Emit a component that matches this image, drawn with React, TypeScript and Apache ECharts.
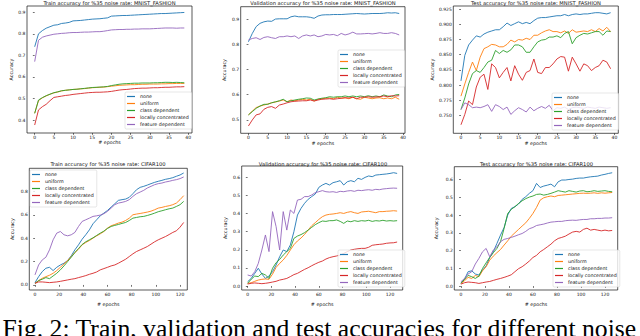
import React, { useEffect, useRef } from "react";
import * as echarts from "echarts";

const SERIES_NAMES = ["none", "uniform", "class dependent", "locally concentrated", "feature dependent"];
const SERIES_COLORS = ["#1f77b4", "#ff7f0e", "#2ca02c", "#d62728", "#9467bd"];
const FONT = "DejaVu Sans";

const epochsFashion = [0, 1, 2, 3, 4, 5, 6, 7, 8, 9, 10, 11, 12, 13, 14, 15, 16, 17, 18, 19, 20, 21, 22, 23, 24, 25, 26, 27, 28, 29, 30, 31, 32, 33, 34, 35, 36, 37, 38, 39];
const epochsCifar = [0, 3, 6, 9, 12, 15, 18, 21, 24, 27, 30, 33, 36, 39, 42, 45, 48, 51, 54, 57, 60, 63, 66, 69, 72, 75, 78, 81, 84, 87, 90, 93, 96, 99, 102, 105, 108, 111, 114, 117, 120, 123, 126];

const xTicksFashion = [0, 5, 10, 15, 20, 25, 30, 35, 40];
const xTicksCifar = [0, 20, 40, 60, 80, 100, 120];
const yTicksFashionTrain = [0.4, 0.5, 0.6, 0.7, 0.8, 0.9];
const yTicksFashionVal = [0.5, 0.6, 0.7, 0.8, 0.9];
const yTicksFashionTest = [0.75, 0.775, 0.8, 0.825, 0.85, 0.875, 0.9, 0.925];
const yTicksCifarTrain = [0, 0.2, 0.4, 0.6, 0.8];
const yTicksCifarVal = [0, 0.1, 0.2, 0.3, 0.4, 0.5, 0.6];
const yTicksCifarTest = [0, 0.1, 0.2, 0.3, 0.4, 0.5, 0.6];

// MNIST_FASHION train
const fashionTrainNone = [0.74, 0.8, 0.815, 0.826, 0.833, 0.84, 0.842, 0.848, 0.85, 0.853, 0.86, 0.861, 0.862, 0.864, 0.866, 0.868, 0.869, 0.87, 0.872, 0.874, 0.882, 0.883, 0.884, 0.885, 0.885, 0.886, 0.887, 0.888, 0.889, 0.89, 0.891, 0.892, 0.893, 0.894, 0.894, 0.895, 0.896, 0.897, 0.898, 0.899];
const fashionTrainUniform = [0.432, 0.49, 0.503, 0.512, 0.52, 0.526, 0.53, 0.535, 0.538, 0.54, 0.542, 0.543, 0.545, 0.546, 0.548, 0.55, 0.551, 0.552, 0.553, 0.555, 0.557, 0.559, 0.561, 0.562, 0.563, 0.564, 0.564, 0.565, 0.566, 0.566, 0.567, 0.567, 0.567, 0.568, 0.568, 0.569, 0.569, 0.57, 0.57, 0.57];
const fashionTrainClass = [0.431, 0.493, 0.504, 0.513, 0.52, 0.527, 0.531, 0.536, 0.538, 0.54, 0.542, 0.543, 0.545, 0.547, 0.549, 0.551, 0.552, 0.553, 0.554, 0.556, 0.56, 0.563, 0.566, 0.568, 0.569, 0.57, 0.571, 0.571, 0.572, 0.572, 0.572, 0.573, 0.573, 0.574, 0.575, 0.575, 0.574, 0.575, 0.574, 0.573];
const fashionTrainLocal = [0.377, 0.447, 0.462, 0.473, 0.49, 0.505, 0.508, 0.511, 0.514, 0.516, 0.519, 0.521, 0.523, 0.525, 0.527, 0.528, 0.529, 0.529, 0.53, 0.531, 0.533, 0.536, 0.539, 0.541, 0.542, 0.544, 0.546, 0.547, 0.548, 0.548, 0.549, 0.55, 0.55, 0.551, 0.552, 0.552, 0.553, 0.554, 0.554, 0.555];
const fashionTrainFeature = [0.671, 0.77, 0.784, 0.79, 0.794, 0.798, 0.8, 0.802, 0.803, 0.805, 0.806, 0.806, 0.807, 0.808, 0.808, 0.809, 0.81, 0.81, 0.812, 0.815, 0.818, 0.819, 0.82, 0.82, 0.821, 0.821, 0.822, 0.822, 0.823, 0.823, 0.823, 0.824, 0.825, 0.826, 0.827, 0.827, 0.827, 0.826, 0.827, 0.827];

// MNIST_FASHION validation
const fashionValNone = [0.81, 0.843, 0.87, 0.883, 0.889, 0.892, 0.891, 0.9, 0.901, 0.901, 0.901, 0.909, 0.912, 0.909, 0.909, 0.909, 0.907, 0.903, 0.912, 0.916, 0.917, 0.917, 0.918, 0.918, 0.918, 0.919, 0.92, 0.921, 0.922, 0.921, 0.92, 0.921, 0.922, 0.922, 0.922, 0.923, 0.925, 0.924, 0.925, 0.922];
const fashionValUniform = [0.52, 0.535, 0.549, 0.555, 0.559, 0.563, 0.568, 0.571, 0.575, 0.579, 0.572, 0.579, 0.576, 0.579, 0.582, 0.579, 0.582, 0.575, 0.582, 0.584, 0.586, 0.587, 0.584, 0.59, 0.586, 0.588, 0.584, 0.59, 0.584, 0.582, 0.59, 0.587, 0.584, 0.587, 0.588, 0.584, 0.587, 0.584, 0.59, 0.582];
const fashionValClass = [0.52, 0.533, 0.546, 0.555, 0.562, 0.562, 0.568, 0.572, 0.576, 0.582, 0.572, 0.576, 0.579, 0.582, 0.584, 0.587, 0.586, 0.579, 0.583, 0.586, 0.588, 0.592, 0.59, 0.592, 0.592, 0.595, 0.592, 0.595, 0.592, 0.595, 0.592, 0.596, 0.592, 0.595, 0.592, 0.599, 0.595, 0.592, 0.599, 0.601];
const fashionValLocal = [0.476, 0.5, 0.52, 0.524, 0.542, 0.55, 0.553, 0.546, 0.559, 0.563, 0.568, 0.572, 0.574, 0.575, 0.576, 0.576, 0.579, 0.575, 0.579, 0.582, 0.583, 0.584, 0.582, 0.584, 0.586, 0.588, 0.587, 0.59, 0.584, 0.59, 0.59, 0.592, 0.59, 0.591, 0.592, 0.595, 0.592, 0.596, 0.595, 0.596];
const fashionValFeature = [0.817, 0.823, 0.826, 0.819, 0.827, 0.83, 0.826, 0.823, 0.83, 0.83, 0.833, 0.83, 0.833, 0.823, 0.833, 0.837, 0.833, 0.837, 0.83, 0.833, 0.839, 0.837, 0.839, 0.834, 0.843, 0.837, 0.841, 0.848, 0.841, 0.841, 0.842, 0.843, 0.841, 0.843, 0.846, 0.843, 0.843, 0.846, 0.843, 0.837];

// MNIST_FASHION test
const fashionTestNone = [0.807, 0.849, 0.866, 0.874, 0.881, 0.879, 0.884, 0.887, 0.889, 0.891, 0.891, 0.896, 0.902, 0.898, 0.901, 0.904, 0.901, 0.903, 0.901, 0.906, 0.91, 0.911, 0.911, 0.912, 0.913, 0.914, 0.914, 0.916, 0.914, 0.916, 0.917, 0.916, 0.917, 0.917, 0.918, 0.919, 0.919, 0.918, 0.917, 0.919];
const fashionTestUniform = [0.782, 0.802, 0.821, 0.838, 0.824, 0.846, 0.86, 0.863, 0.867, 0.866, 0.863, 0.863, 0.867, 0.874, 0.871, 0.875, 0.874, 0.877, 0.875, 0.882, 0.882, 0.886, 0.889, 0.891, 0.888, 0.888, 0.886, 0.889, 0.885, 0.891, 0.887, 0.888, 0.889, 0.888, 0.891, 0.888, 0.893, 0.889, 0.895, 0.888];
const fashionTestClass = [0.76, 0.779, 0.802, 0.819, 0.824, 0.821, 0.829, 0.838, 0.841, 0.857, 0.852, 0.857, 0.854, 0.858, 0.866, 0.866, 0.863, 0.854, 0.854, 0.863, 0.871, 0.874, 0.875, 0.879, 0.879, 0.881, 0.878, 0.885, 0.888, 0.868, 0.878, 0.882, 0.885, 0.884, 0.886, 0.888, 0.888, 0.882, 0.889, 0.888];
const fashionTestLocal = [0.735, 0.752, 0.774, 0.768, 0.797, 0.813, 0.818, 0.793, 0.835, 0.829, 0.812, 0.821, 0.829, 0.807, 0.832, 0.818, 0.808, 0.821, 0.824, 0.843, 0.821, 0.819, 0.829, 0.829, 0.835, 0.843, 0.847, 0.846, 0.823, 0.846, 0.835, 0.823, 0.835, 0.832, 0.824, 0.829, 0.832, 0.841, 0.838, 0.827];
const fashionTestFeature = [0.76, 0.771, 0.768, 0.763, 0.764, 0.763, 0.765, 0.768, 0.757, 0.768, 0.765, 0.76, 0.764, 0.752, 0.758, 0.763, 0.76, 0.756, 0.764, 0.758, 0.762, 0.765, 0.762, 0.767, 0.758, 0.763, 0.762, 0.764, 0.76, 0.763, 0.764, 0.763, 0.762, 0.764, 0.763, 0.762, 0.764, 0.763, 0.762, 0.763];

// CIFAR100 train
const cifarTrainNone = [0.02, 0.071, 0.114, 0.143, 0.151, 0.123, 0.151, 0.171, 0.186, 0.209, 0.249, 0.3, 0.343, 0.391, 0.429, 0.471, 0.523, 0.557, 0.591, 0.614, 0.637, 0.666, 0.694, 0.723, 0.729, 0.734, 0.749, 0.78, 0.814, 0.834, 0.843, 0.854, 0.866, 0.877, 0.886, 0.894, 0.903, 0.909, 0.917, 0.929, 0.94, 0.957];
const cifarTrainUniform = [0.014, 0.037, 0.057, 0.071, 0.083, 0.1, 0.123, 0.151, 0.18, 0.209, 0.243, 0.277, 0.306, 0.343, 0.363, 0.38, 0.4, 0.42, 0.437, 0.457, 0.486, 0.506, 0.517, 0.529, 0.537, 0.551, 0.571, 0.6, 0.606, 0.611, 0.617, 0.623, 0.631, 0.643, 0.657, 0.663, 0.671, 0.677, 0.686, 0.7, 0.729, 0.763];
const cifarTrainClass = [0.014, 0.037, 0.049, 0.063, 0.054, 0.077, 0.1, 0.129, 0.163, 0.2, 0.237, 0.277, 0.311, 0.346, 0.369, 0.386, 0.403, 0.423, 0.443, 0.46, 0.483, 0.5, 0.509, 0.517, 0.526, 0.534, 0.551, 0.571, 0.577, 0.583, 0.586, 0.594, 0.603, 0.614, 0.626, 0.634, 0.643, 0.651, 0.657, 0.671, 0.686, 0.714];
const cifarTrainLocal = [0.014, 0.026, 0.026, 0.023, 0.02, 0.023, 0.026, 0.031, 0.037, 0.043, 0.049, 0.054, 0.063, 0.071, 0.08, 0.091, 0.1, 0.111, 0.129, 0.14, 0.151, 0.163, 0.171, 0.186, 0.203, 0.22, 0.243, 0.266, 0.286, 0.3, 0.314, 0.329, 0.349, 0.369, 0.386, 0.4, 0.414, 0.431, 0.449, 0.463, 0.494, 0.534];
const cifarTrainFeature = [0.086, 0.171, 0.214, 0.237, 0.3, 0.386, 0.443, 0.457, 0.429, 0.42, 0.429, 0.449, 0.5, 0.543, 0.557, 0.571, 0.586, 0.591, 0.597, 0.609, 0.629, 0.657, 0.686, 0.7, 0.706, 0.714, 0.729, 0.757, 0.78, 0.794, 0.809, 0.829, 0.843, 0.857, 0.866, 0.871, 0.88, 0.886, 0.894, 0.9, 0.909, 0.923];

// CIFAR100 validation
const cifarValNone = [0.024, 0.042, 0.07, 0.098, 0.066, 0.042, 0.055, 0.079, 0.116, 0.162, 0.199, 0.19, 0.227, 0.3, 0.392, 0.429, 0.457, 0.479, 0.494, 0.508, 0.545, 0.558, 0.567, 0.558, 0.571, 0.576, 0.582, 0.558, 0.576, 0.582, 0.576, 0.595, 0.589, 0.6, 0.608, 0.604, 0.613, 0.615, 0.617, 0.619, 0.622, 0.626, 0.622];
const cifarValUniform = [0.015, 0.018, 0.026, 0.033, 0.037, 0.039, 0.037, 0.066, 0.103, 0.125, 0.144, 0.169, 0.199, 0.228, 0.249, 0.265, 0.285, 0.309, 0.333, 0.35, 0.368, 0.383, 0.392, 0.396, 0.398, 0.401, 0.405, 0.401, 0.407, 0.411, 0.405, 0.401, 0.409, 0.411, 0.413, 0.409, 0.405, 0.411, 0.411, 0.413, 0.414, 0.416, 0.414];
const cifarValClass = [0.015, 0.037, 0.055, 0.052, 0.07, 0.061, 0.042, 0.098, 0.129, 0.147, 0.171, 0.19, 0.208, 0.263, 0.276, 0.284, 0.295, 0.309, 0.324, 0.339, 0.35, 0.359, 0.357, 0.361, 0.361, 0.365, 0.357, 0.346, 0.359, 0.355, 0.361, 0.357, 0.361, 0.359, 0.363, 0.357, 0.361, 0.359, 0.363, 0.359, 0.361, 0.359, 0.361];
const cifarValLocal = [0.011, 0.015, 0.017, 0.015, 0.013, 0.015, 0.018, 0.022, 0.026, 0.033, 0.037, 0.042, 0.052, 0.063, 0.07, 0.081, 0.092, 0.101, 0.112, 0.122, 0.131, 0.138, 0.149, 0.157, 0.162, 0.166, 0.171, 0.18, 0.19, 0.199, 0.203, 0.206, 0.208, 0.208, 0.214, 0.225, 0.228, 0.23, 0.232, 0.236, 0.238, 0.239, 0.243];
const cifarValFeature = [0.061, 0.055, 0.079, 0.125, 0.199, 0.282, 0.19, 0.411, 0.328, 0.199, 0.411, 0.309, 0.42, 0.401, 0.475, 0.479, 0.494, 0.494, 0.503, 0.516, 0.521, 0.527, 0.521, 0.519, 0.521, 0.517, 0.523, 0.521, 0.525, 0.527, 0.523, 0.529, 0.527, 0.53, 0.532, 0.529, 0.534, 0.532, 0.536, 0.538, 0.54, 0.541, 0.54];

// CIFAR100 test
const cifarTestNone = [0.019, 0.038, 0.081, 0.086, 0.068, 0.062, 0.09, 0.113, 0.161, 0.193, 0.24, 0.287, 0.33, 0.4, 0.437, 0.447, 0.462, 0.488, 0.503, 0.522, 0.537, 0.578, 0.555, 0.563, 0.568, 0.574, 0.559, 0.587, 0.597, 0.597, 0.6, 0.602, 0.606, 0.608, 0.608, 0.612, 0.615, 0.617, 0.619, 0.625, 0.629, 0.634, 0.638];
const cifarTestUniform = [0.015, 0.03, 0.049, 0.043, 0.06, 0.053, 0.086, 0.109, 0.146, 0.169, 0.188, 0.206, 0.231, 0.255, 0.281, 0.3, 0.319, 0.338, 0.356, 0.381, 0.409, 0.443, 0.484, 0.497, 0.503, 0.507, 0.503, 0.51, 0.512, 0.514, 0.516, 0.518, 0.52, 0.522, 0.523, 0.522, 0.523, 0.525, 0.522, 0.525, 0.523, 0.525, 0.527];
const cifarTestClass = [0.015, 0.038, 0.06, 0.053, 0.043, 0.056, 0.099, 0.131, 0.161, 0.188, 0.212, 0.25, 0.325, 0.409, 0.432, 0.447, 0.465, 0.48, 0.492, 0.501, 0.507, 0.516, 0.518, 0.512, 0.516, 0.522, 0.529, 0.537, 0.533, 0.529, 0.537, 0.533, 0.529, 0.535, 0.537, 0.531, 0.533, 0.537, 0.533, 0.535, 0.537, 0.533, 0.531];
const cifarTestLocal = [0.011, 0.019, 0.023, 0.021, 0.019, 0.015, 0.019, 0.023, 0.026, 0.032, 0.038, 0.043, 0.049, 0.056, 0.064, 0.081, 0.098, 0.109, 0.124, 0.141, 0.161, 0.173, 0.193, 0.206, 0.221, 0.236, 0.255, 0.268, 0.274, 0.281, 0.293, 0.304, 0.308, 0.304, 0.319, 0.326, 0.315, 0.319, 0.315, 0.311, 0.315, 0.311, 0.313];
const cifarTestFeature = [0.024, 0.043, 0.068, 0.081, 0.124, 0.156, 0.193, 0.212, 0.165, 0.203, 0.221, 0.25, 0.263, 0.268, 0.274, 0.281, 0.289, 0.296, 0.308, 0.323, 0.33, 0.341, 0.345, 0.349, 0.355, 0.36, 0.362, 0.364, 0.364, 0.368, 0.37, 0.371, 0.37, 0.373, 0.375, 0.375, 0.379, 0.379, 0.381, 0.381, 0.383, 0.383, 0.385];

const CAPTION = "Fig. 2: Train, validation and test accuracies for different noise";

const panels = [
  { title: "Train accuracy for %35 noise rate: MNIST_FASHION", epochs: epochsFashion, xTicks: xTicksFashion, yTicks: yTicksFashionTrain, digits: 1,
    series: [fashionTrainNone, fashionTrainUniform, fashionTrainClass, fashionTrainLocal, fashionTrainFeature] },
  { title: "Validation accuracy for %35 noise rate: MNIST_FASHION", epochs: epochsFashion, xTicks: xTicksFashion, yTicks: yTicksFashionVal, digits: 1,
    series: [fashionValNone, fashionValUniform, fashionValClass, fashionValLocal, fashionValFeature] },
  { title: "Test accuracy for %35 noise rate: MNIST_FASHION", epochs: epochsFashion, xTicks: xTicksFashion, yTicks: yTicksFashionTest, digits: 3,
    series: [fashionTestNone, fashionTestUniform, fashionTestClass, fashionTestLocal, fashionTestFeature] },
  { title: "Train accuracy for %35 noise rate: CIFAR100", epochs: epochsCifar, xTicks: xTicksCifar, yTicks: yTicksCifarTrain, digits: 1,
    series: [cifarTrainNone, cifarTrainUniform, cifarTrainClass, cifarTrainLocal, cifarTrainFeature] },
  { title: "Validation accuracy for %35 noise rate: CIFAR100", epochs: epochsCifar, xTicks: xTicksCifar, yTicks: yTicksCifarVal, digits: 1,
    series: [cifarValNone, cifarValUniform, cifarValClass, cifarValLocal, cifarValFeature] },
  { title: "Test accuracy for %35 noise rate: CIFAR100", epochs: epochsCifar, xTicks: xTicksCifar, yTicks: yTicksCifarTest, digits: 1,
    series: [cifarTestNone, cifarTestUniform, cifarTestClass, cifarTestLocal, cifarTestFeature] },
];

// layout (pixels) for each panel
const layouts = [
  { grid: { left: 27, top: 6, width: 165, height: 127 }, x: [-2, 41], y: [0.34, 0.929], legend: { left: 125, top: 92 }, title: [109.5, 2.5], yGap: 13, xGap: 6 },
  { grid: { left: 240.7, top: 6.7, width: 164.3, height: 126.6 }, x: [-2, 40.5], y: [0.447, 0.949], legend: { left: 338, top: 50 }, title: [323, 2.5], yGap: 13.5, xGap: 6 },
  { grid: { left: 453.3, top: 6, width: 165, height: 127.3 }, x: [-2, 41], y: [0.721, 0.93], legend: { left: 552, top: 93 }, title: [536, 2.5], yGap: 18.5, xGap: 6 },
  { grid: { left: 29.3, top: 168.3, width: 158, height: 121.7 }, x: [-4.7, 126], y: [-0.043, 0.997], legend: { left: 30, top: 170 }, title: [108, 164], yGap: 14.5, xGap: 12 },
  { grid: { left: 241.7, top: 166, width: 161, height: 124 }, x: [-5, 130.7], y: [-0.022, 0.663], legend: { left: 338, top: 250 }, title: [323, 163.5], yGap: 14, xGap: 12 },
  { grid: { left: 454.3, top: 166.7, width: 163.4, height: 123.3 }, x: [-5.5, 130.6], y: [-0.022, 0.672], legend: { left: 553, top: 250 }, title: [536.5, 163.5], yGap: 15, xGap: 12 },
];

function buildOption() {
  const grid: any[] = [];
  const xAxis: any[] = [];
  const yAxis: any[] = [];
  const legend: any[] = [];
  const series: any[] = [];
  const graphic: any[] = [];

  panels.forEach((p, i) => {
    const L = layouts[i];
    grid.push({ ...L.grid, show: true, borderColor: "#111", borderWidth: 0.7, backgroundColor: "transparent", containLabel: false });
    xAxis.push({
      type: "value", gridIndex: i, min: L.x[0], max: L.x[1],
      axisLine: { show: false }, splitLine: { show: false },
      axisTick: { show: true, length: 1.8, lineStyle: { color: "#111", width: 0.6 }, customValues: p.xTicks },
      axisLabel: { fontSize: 4.5, fontFamily: FONT, color: "#111", margin: 1.5, customValues: p.xTicks, formatter: (v: number) => String(Math.round(v)) },
      name: "# epochs", nameLocation: "middle", nameGap: L.xGap,
      nameTextStyle: { fontSize: 4.8, fontFamily: FONT, color: "#111" },
    });
    yAxis.push({
      type: "value", gridIndex: i, min: L.y[0], max: L.y[1],
      axisLine: { show: false }, splitLine: { show: false },
      axisTick: { show: true, length: 1.8, lineStyle: { color: "#111", width: 0.6 }, customValues: p.yTicks },
      axisLabel: { fontSize: 4.5, fontFamily: FONT, color: "#111", margin: 1.5, customValues: p.yTicks, formatter: (v: number) => v.toFixed(p.digits) },
      name: "Accuracy", nameLocation: "middle", nameGap: L.yGap, nameRotate: 90,
      nameTextStyle: { fontSize: 4.8, fontFamily: FONT, color: "#111" },
    });
    legend.push({
      data: SERIES_NAMES, orient: "vertical", left: L.legend.left, top: L.legend.top,
      icon: "rect", itemWidth: 8, itemHeight: 1.2, itemGap: 2, selectedMode: false,
      textStyle: { fontSize: 4.8, fontFamily: FONT, color: "#111" },
      backgroundColor: "rgba(255,255,255,0.8)", borderColor: "#cccccc", borderWidth: 0.5, borderRadius: 1.5,
      padding: [2, 3, 2, 2],
    });
    p.series.forEach((arr, k) => {
      series.push({
        type: "line", name: SERIES_NAMES[k], xAxisIndex: i, yAxisIndex: i,
        data: arr.map((v, j) => [p.epochs[j], v]),
        showSymbol: false, symbol: "none", smooth: false,
        lineStyle: { color: SERIES_COLORS[k], width: 0.9 },
        itemStyle: { color: SERIES_COLORS[k] },
        emphasis: { disabled: true }, silent: true, z: 2,
      });
    });
    graphic.push({
      type: "text", x: L.title[0], y: L.title[1], silent: true,
      style: { text: p.title, fill: "#111", font: `5.2px "${FONT}"`, fontSize: 5.2, fontFamily: FONT,
        align: "center", verticalAlign: "middle", textAlign: "center", textVerticalAlign: "middle" },
    });
  });

  graphic.push({
    type: "text", x: 2.5, y: 328, silent: true,
    style: { text: CAPTION, fill: "#000", font: `25.7px "Liberation Serif"`, fontSize: 25.7, fontFamily: "Liberation Serif",
      align: "left", verticalAlign: "middle", textAlign: "left", textVerticalAlign: "middle" },
  });

  return {
    animation: false,
    backgroundColor: "#ffffff",
    grid, xAxis, yAxis, legend, series, graphic,
  };
}

export default function App() {
  const ref = useRef<HTMLDivElement>(null);
  useEffect(() => {
    document.body.style.margin = "0";
    if (!ref.current) return;
    const chart = echarts.init(ref.current, undefined, { renderer: "svg" });
    chart.setOption(buildOption() as any);
    return () => chart.dispose();
  }, []);
  return <div ref={ref} style={{ position: "absolute", left: 0, top: 0, width: 640, height: 336 }} />;
}
